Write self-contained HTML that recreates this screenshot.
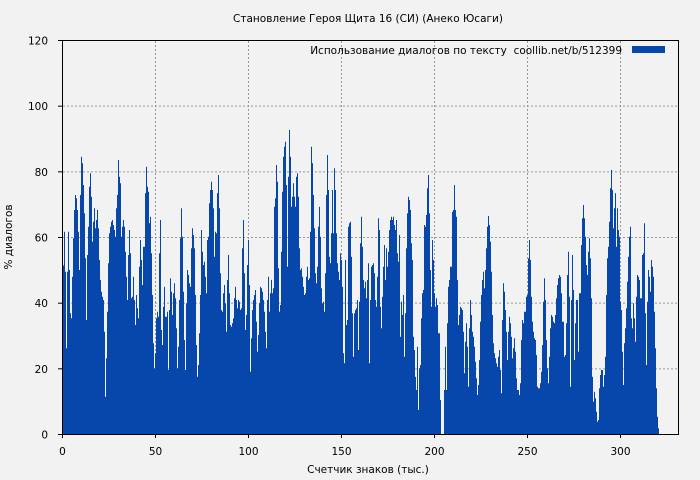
<!DOCTYPE html>
<html><head><meta charset="utf-8"><style>
html,body{margin:0;padding:0;background:#f2f2f2;}
svg{display:block;}
text{font-family:"DejaVu Sans","Liberation Sans",sans-serif;font-size:10.5px;fill:#000;white-space:pre;}
</style></head><body>
<svg id="s" width="700" height="480" xmlns="http://www.w3.org/2000/svg">
<rect width="700" height="480" fill="#f2f2f2"/>
<g id="grid" stroke="#999" stroke-dasharray="2,2" stroke-width="1"></g>
<path id="bars" fill="#0747ab"/>
<g stroke="#000" stroke-width="1" fill="none">
<path d="M62.5,40 V434.5 H678.5 V40"/>
<path d="M62,40.5 H679" stroke="#000"/>
</g>
<g id="ticks" stroke="#000"></g>
<g id="labels"></g>
<text x="368" y="22" text-anchor="middle">Становление Героя Щита 16 (СИ) (Анеко Юсаги)</text>
<text x="622" y="54" text-anchor="end">Использование диалогов по тексту  coollib.net/b/512399</text>
<rect x="632" y="46" width="33" height="7" fill="#0747ab"/>
<text x="368" y="473" text-anchor="middle">Счетчик знаков (тыс.)</text>
<text x="12" y="237" text-anchor="middle" transform="rotate(-90 12 237)">% диалогов</text>
</svg>
<script>
(function(){
var c2=[8,410,12,275,15,395,18,625,21,395,24,275,27,390,30,520,33,535,36,410,39,295,42,210,45,165,48,175,51,210,54,275,57,390,60,165,63,50,66,70,69,135,72,220,75,355,78,540,81,345,84,260,87,140,90,100,93,170,96,305,99,245,102,205,105,265,108,240,111,210,114,265,117,360,120,420,123,455,126,470,129,480,132,575,135,770,138,655,141,515,144,370,147,280,150,260,153,245,156,240,159,255,162,270,165,290,168,205,171,165,174,60,177,110,180,130,183,290,186,260,189,240,192,260,195,335,198,410,201,480,204,345,207,270,210,340,213,475,216,470,219,410,222,480,225,555,228,465,231,505,234,535,237,380,240,300,243,360,246,435,249,320,252,320,255,160,258,80,261,140,264,155,267,250,270,230,273,340,276,465,279,610,282,685,285,640,288,535,291,515,294,530,297,340,300,240,303,570,306,615,309,500,312,440,315,530,318,530,321,515,324,690,327,510];
var c3=[0,415,3,455,6,525,9,460,12,430,15,475,18,565,21,685,24,620,27,480,30,295,33,205,36,290,39,455,42,600,45,690,48,490,51,390,54,405,57,430,60,440,63,325,66,265,69,285,72,325,75,465,78,615,81,710,84,675,87,580,90,465,93,270,96,335,99,375,102,365,105,410,108,460,111,300,114,290,117,190,120,150,123,125,126,150,129,205,132,350,135,275,138,280,141,160,144,105,147,205,150,400,153,510,156,515,159,460,162,435,165,490,168,575,171,420,174,345,177,460,180,555,183,560,186,550,189,535,192,475,195,440,198,480,201,505,204,480,207,485,210,510,213,505,216,325,219,240,222,400,225,570,228,525,231,375,234,300,237,435,240,695,243,595,246,510,249,480,252,465,255,450,258,545,261,635,264,585,267,490,270,440,273,445,276,455,279,480,282,515,285,575,288,625,291,480,294,410,297,515,300,460,303,420,306,460,309,445,312,200,315,175,318,75,321,125,324,385,327,515];
var c4=[0,555,3,395,6,215,9,110,12,80,15,65,18,195,21,440,24,170,27,30,30,110,33,260,36,230,39,190,42,230,45,260,48,170,51,160,54,230,57,385,60,450,63,445,66,470,69,500,72,525,75,520,78,470,81,440,84,480,87,475,90,335,93,80,96,130,99,225,102,325,105,460,108,490,111,440,114,320,117,260,120,350,123,505,126,550,129,545,132,575,135,460,138,225,141,105,144,210,147,410,150,430,153,340,156,210,159,340,162,145,165,210,168,340,171,430,174,455,177,480,180,400,183,420,186,500,189,700,192,730,195,420,198,615,201,600,204,320,207,310,210,305,213,410,216,580,219,710,222,580,225,570,228,565,231,540,234,690,237,545,240,370,243,290,246,380,249,480,252,505,255,485,258,535,261,480,264,430,267,730,270,540,273,440,276,435,279,430,282,460,285,540,288,560,291,470,294,295,297,330,300,560,303,625,306,530,309,440,312,375,315,480,318,385,321,440,324,395,327,330,330,300,333,290,336,300,339,290,342,315,345,330,348,300,351,400,354,425,357,345,360,650,363,545,366,585,369,525,372,710,375,580,378,385,381,280,384,230,387,240,390,270,393,370,396,420,399,650,402,690,405,770,408,810,411,680,414,870,417,745,420,735,423,595,426,520,429,510,432,315,435,320,438,285,441,205,444,165,447,280,450,450,453,560,456,360,459,420,462,520,465,560,468,535,471,555,474,640,477,640,480,840,492,810,495,680,498,810,501,610,504,500,507,480,510,440,513,440,516,275,519,270,522,195,525,270,528,370,531,440,534,590,537,615];
var cA=[0,135,3,230,6,420,9,555,12,525,15,500,18,505,21,510,24,575,27,700,30,605,33,550,36,620,39,740,42,565,45,480,48,525,51,575,54,590,57,620,60,665,63,715,66,765,69,735,72,660,75,545,78,465,81,420,84,395,87,445,90,390,93,325,96,260,99,228,102,255,105,305,108,395,111,525,114,610,117,640,120,655,123,670,126,680,129,650,132,630,135,690,138,760,141,540,144,430,147,455,150,510,153,575,156,660,159,575,162,530,165,550,168,590,171,655,174,625,177,595,180,635,183,715,186,750,189,750,192,765,195,730,198,600,201,540,204,550,207,515,210,515,213,470,216,465,219,355,222,300,225,360,228,470,231,545,234,575,237,595,240,600,243,645,246,740,249,745,252,745,255,730,258,695,261,615,264,485,267,415,270,480,273,600,276,685,279,730,282,650,285,565,288,525,291,530,294,545,297,550,300,525,303,475,306,435,309,415,312,405,315,410,318,460,321,545,324,650,327,650];
var cB=[0,410,3,410,6,460,9,545,12,650,15,645,18,550,21,405,24,335,27,470,30,740,33,480,36,345,39,450,42,660,45,550,48,480,51,480,54,635,57,460,60,460,63,315,66,235,69,195,72,235,75,290,78,375,81,405,84,335,87,295,90,355,93,475,96,710,99,785,102,755,105,775,108,815,111,845,114,840,117,745,120,705,123,690,126,690,129,740,132,705,135,650,138,465,141,355,144,320,147,245,150,145,153,90,156,150,159,265,162,205,165,160,168,320,171,205,174,270,177,290,180,485,183,510,186,635,189,735,192,610,195,565,198,505,201,425,204,350,207,290,210,260,213,535,216,565,219,490,222,535,225,605,228,470,231,405,234,410,237,420,240,475,243,475,246,345,249,340,252,250,255,520,258,675,261,485,264,390,267,410,270,455,273,360,276,380,279,410,282,515,285,625,288,745,291,830,294,865,297,882];
var pts=[];
function add(a,ox,oy,lo,hi){for(var i=0;i<a.length;i+=2){var x=ox+a[i]/3+0.5;if(x>=lo&&x<hi)pts.push([x,oy+a[i+1]/3]);}}
add(c2,60,140,62,170);
add(c3,170,140,170,280);
add(c4,280,120,280,456);
add(cA,455,140,456,563);
add(cB,560,140,563,700);
pts.sort(function(a,b){return a[0]-b[0];});
function topY(x){
 if(x>=441&&x<444)return 434;
 for(var i=0;i<pts.length-1;i++){if(pts[i][0]<=x&&pts[i+1][0]>=x){var t=(x-pts[i][0])/((pts[i+1][0]-pts[i][0])||1);return pts[i][1]+t*(pts[i+1][1]-pts[i][1]);}}
 return 434;
}
var d="M63,434";
for(var x=63;x<659;x++){var y=topY(x+0.5);if(y>434)y=434;d+=" V"+y.toFixed(1)+" H"+(x+1);}
d+=" V434 Z";
document.getElementById("bars").setAttribute("d",d);
var g=document.getElementById("grid"),tk=document.getElementById("ticks"),lb=document.getElementById("labels"),ns="http://www.w3.org/2000/svg";
function el(p,n,a){var e=document.createElementNS(ns,n);for(var k in a)e.setAttribute(k,a[k]);p.appendChild(e);return e;}
for(var v=0;v<=300;v+=50){var px=62.5+v*1.86;
 if(v>0)el(g,"line",{x1:px,x2:px,y1:41,y2:434});
 el(tk,"line",{x1:px,x2:px,y1:434,y2:438});
 var t=el(lb,"text",{x:px,y:455,"text-anchor":"middle"});t.textContent=v;}
for(var v=0;v<=120;v+=20){var py=434.5-v*3.2833;
 if(v>0&&v<120)el(g,"line",{x1:63,x2:678,y1:py,y2:py});
 el(tk,"line",{x1:58,x2:62,y1:py,y2:py});
 var t=el(lb,"text",{x:48,y:py+4,"text-anchor":"end"});t.textContent=v;}
})();
</script>
</body></html>
